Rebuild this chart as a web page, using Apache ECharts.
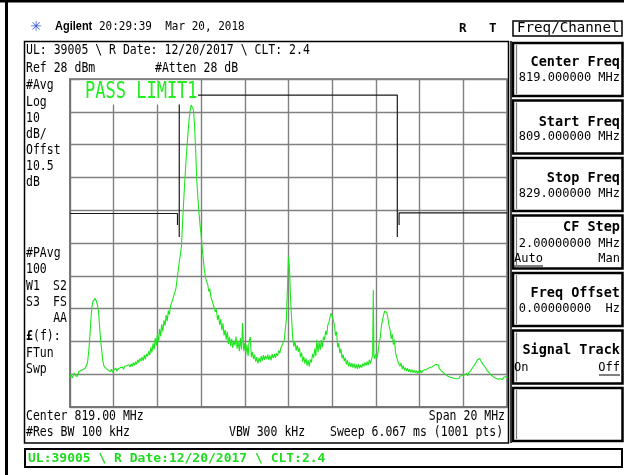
<!DOCTYPE html>
<html>
<head>
<meta charset="utf-8">
<script src="https://cdn.jsdelivr.net/npm/echarts@6/dist/echarts.min.js"></script>
<style>
html,body{margin:0;padding:0;background:#fff;}
#chart{width:624px;height:475px;}
</style>
</head>
<body>
<div id="chart"></div>
<script>
// ---- trace data (frequency MHz, level dBm) ----
const freqMHz = [
809.00,809.05,809.10,809.15,809.20,809.25,809.30,809.35,809.40,809.45,809.50,809.55,809.60,809.65,809.70,809.75,809.80,809.85,809.90,809.95,
810.00,810.05,810.10,810.15,810.20,810.25,810.30,810.35,810.40,810.45,810.50,810.55,810.60,810.65,810.70,810.75,810.80,810.85,810.90,810.95,
811.00,811.05,811.10,811.15,811.20,811.25,811.30,811.35,811.40,811.45,811.50,811.55,811.60,811.65,811.70,811.75,811.80,811.85,811.90,811.95,
812.00,812.05,812.10,812.15,812.20,812.25,812.30,812.35,812.40,812.45,812.50,812.55,812.60,812.65,812.70,812.75,812.80,812.85,812.90,812.95,
813.00,813.05,813.10,813.15,813.20,813.25,813.30,813.35,813.40,813.45,813.50,813.55,813.60,813.65,813.70,813.75,813.80,813.85,813.90,813.95,
814.00,814.05,814.10,814.15,814.20,814.25,814.30,814.35,814.40,814.45,814.50,814.55,814.60,814.65,814.70,814.75,814.80,814.85,814.90,814.95,
815.00,815.05,815.10,815.15,815.20,815.25,815.30,815.35,815.40,815.45,815.50,815.55,815.60,815.65,815.70,815.75,815.80,815.85,815.90,815.95,
816.00,816.05,816.10,816.15,816.20,816.25,816.30,816.35,816.40,816.45,816.50,816.55,816.60,816.65,816.70,816.75,816.80,816.85,816.90,816.95,
817.00,817.05,817.10,817.15,817.20,817.25,817.30,817.35,817.40,817.45,817.50,817.55,817.60,817.65,817.70,817.75,817.80,817.85,817.90,817.95,
818.00,818.05,818.10,818.15,818.20,818.25,818.30,818.35,818.40,818.45,818.50,818.55,818.60,818.65,818.70,818.75,818.80,818.85,818.90,818.95,
819.00,819.05,819.10,819.15,819.20,819.25,819.30,819.35,819.40,819.45,819.50,819.55,819.60,819.65,819.70,819.75,819.80,819.85,819.90,819.95,
820.00,820.05,820.10,820.15,820.20,820.25,820.30,820.35,820.40,820.45,820.50,820.55,820.60,820.65,820.70,820.75,820.80,820.85,820.90,820.95,
821.00,821.05,821.10,821.15,821.20,821.25,821.30,821.35,821.40,821.45,821.50,821.55,821.60,821.65,821.70,821.75,821.80,821.85,821.90,821.95,
822.00,822.05,822.10,822.15,822.20,822.25,822.30,822.35,822.40,822.45,822.50,822.55,822.60,822.65,822.70,822.75,822.80,822.85,822.88,822.91,822.95,
823.00,823.05,823.10,823.15,823.20,823.25,823.30,823.35,823.40,823.45,823.50,823.55,823.60,823.65,823.70,823.75,823.80,823.85,823.90,823.95,
824.00,824.05,824.10,824.15,824.20,824.25,824.30,824.35,824.40,824.45,824.50,824.55,824.60,824.65,824.70,824.75,824.80,824.85,824.90,824.95,
825.00,825.05,825.10,825.15,825.20,825.25,825.30,825.35,825.40,825.45,825.50,825.55,825.60,825.65,825.70,825.75,825.80,825.85,825.90,825.95,
826.00,826.05,826.10,826.15,826.20,826.25,826.30,826.35,826.40,826.45,826.50,826.55,826.60,826.65,826.70,826.75,826.80,826.85,826.90,826.95,
827.00,827.05,827.10,827.15,827.20,827.25,827.30,827.35,827.40,827.45,827.50,827.55,827.60,827.65,827.70,827.75,827.80,827.85,827.90,827.95,
828.00,828.05,828.10,828.15,828.20,828.25,828.30,828.35,828.40,828.45,828.50,828.55,828.60,828.65,828.70,828.75,828.80,828.85,828.90,828.95,
829.00
];
const levelDbm = [
-62.8,-62.0,-63.2,-62.4,-61.6,-62.5,-61.9,-62.6,-61.2,-61.8,-60.9,-61.5,-60.6,-61.0,-60.1,-59.8,-58.5,-55.5,-51.5,-46.0,
-41.5,-39.8,-39.2,-38.9,-39.6,-40.8,-42.5,-47.0,-51.5,-54.6,-57.8,-59.5,-59.0,-60.2,-59.6,-60.8,-60.3,-61.2,-60.5,-61.4,
-60.7,-61.0,-60.2,-61.1,-60.4,-60.9,-60.0,-60.6,-59.8,-60.5,-59.6,-60.2,-59.4,-60.0,-59.1,-59.8,-58.8,-59.6,-58.5,-59.3,
-58.2,-59.0,-57.6,-58.5,-57.2,-58.0,-56.8,-57.9,-56.2,-57.5,-55.8,-56.6,-55.0,-56.2,-53.8,-55.4,-52.6,-54.5,-51.0,-53.2,
-49.8,-52.0,-48.2,-50.5,-46.8,-49.0,-45.6,-47.2,-44.0,-45.8,-42.6,-43.8,-41.2,-41.8,-39.2,-39.8,-37.0,-35.8,-33.0,-30.5,
-27.8,-25.6,-23.0,-16.0,-9.5,-3.5,2.0,7.0,11.5,15.5,18.5,20.1,20.0,18.5,14.0,6.5,-2.5,-8.0,-12.5,-16.5,
-19.5,-23.5,-27.0,-30.2,-32.5,-33.8,-34.5,-36.8,-36.0,-38.5,-38.2,-40.6,-40.0,-43.0,-42.2,-45.4,-44.0,-47.0,-45.2,-48.6,
-46.5,-50.2,-48.5,-51.5,-49.0,-52.8,-50.6,-53.4,-51.2,-54.0,-51.8,-53.2,-50.5,-54.2,-52.0,-55.0,-51.0,-54.5,-46.4,-55.0,
-52.5,-56.0,-53.0,-56.5,-51.8,-50.6,-56.8,-55.2,-57.4,-56.0,-58.2,-56.8,-58.7,-57.0,-58.4,-56.5,-57.9,-56.2,-57.6,-56.4,
-57.4,-56.0,-57.6,-56.3,-57.8,-55.9,-57.1,-55.8,-57.0,-55.6,-56.4,-54.8,-55.6,-54.0,-54.6,-52.5,-51.8,-48.5,-45.5,-36.0,
-26.2,-30.5,-40.0,-46.0,-51.5,-53.6,-52.0,-54.8,-53.2,-55.2,-54.0,-56.8,-55.4,-58.2,-56.6,-58.8,-57.2,-59.4,-57.8,-59.7,
-57.5,-58.4,-55.8,-57.0,-54.2,-56.5,-51.5,-55.4,-52.2,-54.6,-51.6,-53.8,-50.6,-51.5,-48.8,-50.0,-47.0,-46.2,-44.6,-43.4,
-43.8,-45.5,-47.0,-50.2,-49.0,-53.8,-52.5,-55.6,-54.2,-57.2,-56.0,-58.0,-57.0,-59.0,-57.8,-59.6,-58.4,-59.8,-58.6,-60.0,
-58.8,-60.2,-59.0,-60.4,-58.9,-60.2,-59.2,-60.0,-58.8,-59.6,-58.4,-59.4,-58.2,-59.2,-57.6,-58.8,-57.4,-56.5,-36.3,-56.0,-57.4,
-55.8,-57.2,-55.2,-52.5,-50.8,-47.5,-45.6,-44.0,-42.8,-42.4,-43.2,-45.0,-47.2,-48.5,-51.2,-49.8,-53.0,-51.4,-55.5,-56.8,
-58.0,-57.4,-59.6,-58.6,-60.4,-59.4,-60.8,-60.0,-61.0,-60.2,-61.3,-60.5,-61.4,-60.6,-61.5,-60.8,-61.6,-60.9,-61.8,-61.0,
-61.7,-60.8,-61.6,-60.9,-61.4,-60.6,-61.2,-60.4,-60.9,-60.0,-60.6,-59.8,-60.2,-59.4,-59.8,-59.0,-59.5,-59.2,-60.2,-60.0,
-61.0,-60.8,-61.6,-61.4,-62.2,-61.8,-62.6,-62.2,-62.9,-62.4,-63.1,-62.6,-63.3,-62.7,-63.4,-62.8,-63.3,-62.6,-63.2,-62.4,
-63.0,-62.2,-62.8,-61.8,-62.5,-61.5,-62.0,-60.8,-61.2,-59.8,-60.0,-58.8,-58.6,-57.6,-57.8,-57.2,-57.9,-58.0,-59.0,-58.6,
-59.8,-60.0,-61.0,-60.8,-61.7,-61.6,-62.4,-62.0,-62.9,-62.5,-63.3,-62.8,-63.5,-62.9,-63.4,-62.8,-63.6,-62.9,-63.4,-62.7,
-63.2
];
// ---- limit line segments [freq MHz, dBm] ----
const limitLeft  = [[809, -13], [813.92, -13], [813.92, -16.5]];
const limitMask  = [[814.0, -20.2], [814.0, 23.1], [823.98, 23.1], [823.98, -20.2]];
const limitRight = [[824.06, -16.5], [824.06, -12.8], [829, -12.8]];
// ---- screen setup ----
const freqStart = 809, freqStop = 829, freqDiv = 2;
const refLevel = 28, dbPerDiv = 10, numDivs = 10;
const bottomDbm = refLevel - dbPerDiv * numDivs;   // -72 dBm at the bottom graticule line

// axes are measured from the screen's lower-left corner (offset from start freq / bottom level)
const toXY = (f, v) => [f - freqStart, v - bottomDbm];

const MONO = '"DejaVu Sans Mono", monospace';
const txt = [];
function T(text, x, y, size, opts) {
  opts = opts || {};
  txt.push({
    type: 'text', x: x, y: y, z: opts.z || 10,
    scaleY: opts.sy || 1,
    style: {
      text: text, x: 0, y: 0,
      font: (opts.bold ? 'bold ' : '') + size + 'px ' + (opts.family || MONO),
      fill: opts.color || '#000',
      textAlign: opts.align || 'left',
      textVerticalAlign: 'middle'
    }
  });
}
// header
T('\u2733', 36, 27, 14, {color: '#3a5bd9', align: 'center', family: '"DejaVu Sans", sans-serif'});
T('Agilent', 55, 27, 11, {bold: true, sy: 1.1, family: '"Liberation Sans", Arial, sans-serif'});
T('20:29:39  Mar 20, 2018', 99, 27, 11, {sy: 1.1});
T('R', 459, 29, 12.5, {bold: true});
T('T', 489, 29, 12.5, {bold: true});
T('Freq/Channel', 517, 28.5, 14.2);
// display box text
const S = {sy: 1.15};
T('UL: 39005 \\ R Date: 12/20/2017 \\ CLT: 2.4', 26, 51, 11.5, S);
T('Ref 28 dBm', 26, 69, 11.5, S);
T('#Atten 28 dB', 155, 69, 11.5, S);
const sideTop = ['#Avg', 'Log', '10', 'dB/', 'Offst', '10.5', 'dB'];
sideTop.forEach((s, i) => T(s, 26, 86 + i * 16.1, 11.5, S));
T('#PAvg', 26, 254, 11.5, S); T('100', 26, 270, 11.5, S);
T('W1', 26, 287, 11.5, S); T('S2', 53, 287, 11.5, S);
T('S3', 26, 303, 11.5, S); T('FS', 53, 303, 11.5, S);
T('AA', 67, 319, 11.5, {align: 'right', sy: 1.15});
T('\u00a3', 26, 337, 11.5, {bold: true, sy: 1.15}); T('(f):', 33, 337, 11.5, S);
T('FTun', 26, 354, 11.5, S); T('Swp', 26, 370, 11.5, S);
T('Center 819.00 MHz', 26, 417, 11.5, S);
T('Span 20 MHz', 505, 417, 11.5, {align: 'right', sy: 1.15});
T('#Res BW 100 kHz', 26, 433, 11.5, S);
T('VBW 300 kHz', 229, 433, 11.5, S);
T('Sweep 6.067 ms (1001 pts)', 330, 433, 11.5, S);
// PASS LIMIT1
T('PASS LIMIT1', 85, 92, 17, {color: '#22ee22', sy: 1.35, z: 101});
// soft keys
const keyTop = [43, 100.5, 158, 215.5, 273, 330.5, 388];
T('Center Freq', 620, 62, 13.5, {bold: true, align: 'right'});
T('819.000000 MHz', 620, 78, 12, {align: 'right'});
T('Start Freq', 620, 122, 13.5, {bold: true, align: 'right'});
T('809.000000 MHz', 620, 137, 12, {align: 'right'});
T('Stop Freq', 620, 178, 13.5, {bold: true, align: 'right'});
T('829.000000 MHz', 620, 194, 12, {align: 'right'});
T('CF Step', 620, 227, 13.5, {bold: true, align: 'right'});
T('2.00000000 MHz', 620, 244, 12, {align: 'right'});
T('Auto', 514, 259, 12);
T('Man', 620, 259, 12, {align: 'right'});
T('Freq Offset', 620, 293, 13.5, {bold: true, align: 'right'});
T('0.00000000  Hz', 620, 309, 12, {align: 'right'});
T('Signal Track', 620, 350, 13.5, {bold: true, align: 'right'});
T('On', 514, 368, 12);
T('Off', 620, 368, 12, {align: 'right'});
// status bar
T('UL:39005 \\ R Date:12/20/2017 \\ CLT:2.4', 28, 458.5, 13, {bold: true, color: '#1fdc1f'});

const shapes = [
  {type: 'rect', z: 5, shape: {x: 0, y: 0, width: 624, height: 2.5}, style: {fill: '#000'}},
  {type: 'rect', z: 5, shape: {x: 5, y: 0, width: 3, height: 475}, style: {fill: '#000'}},
  {type: 'rect', z: 5, shape: {x: 24.5, y: 41.5, width: 484, height: 401.5}, style: {fill: 'none', stroke: '#000', lineWidth: 1.5}},
  {type: 'line', z: 5, shape: {x1: 511, y1: 41, x2: 511, y2: 443}, style: {stroke: '#000', lineWidth: 1.5}},
  {type: 'rect', z: 5, shape: {x: 513, y: 21, width: 109, height: 15}, style: {fill: 'none', stroke: '#000', lineWidth: 1.5}},
  {type: 'rect', z: 5, shape: {x: 25, y: 449, width: 597, height: 18}, style: {fill: 'none', stroke: '#000', lineWidth: 2}},
  {type: 'rect', z: 100, shape: {x: 80, y: 80.5, width: 118, height: 24}, style: {fill: '#fff'}},
  {type: 'line', z: 5, shape: {x1: 514, y1: 266, x2: 543, y2: 266}, style: {stroke: '#000', lineWidth: 1}},
  {type: 'line', z: 5, shape: {x1: 599, y1: 375, x2: 620, y2: 375}, style: {stroke: '#000', lineWidth: 1}}
];
keyTop.forEach(t => {
  shapes.push({type: 'rect', z: 5, shape: {x: 513, y: t, width: 109.5, height: 53}, style: {fill: 'none', stroke: '#000', lineWidth: 2.5}});
  shapes.push({type: 'line', z: 5, shape: {x1: 516.5, y1: t + 2, x2: 516.5, y2: t + 51}, style: {stroke: '#777', lineWidth: 1.2}});
});

const chart = echarts.init(document.getElementById('chart'), null, {renderer: 'canvas'});
const axisCommon = {
  type: 'value',
  axisLine: {show: true, lineStyle: {color: '#707070', width: 1.5}},
  axisTick: {show: false},
  axisLabel: {show: false},
  splitLine: {show: true, lineStyle: {color: '#808080', width: 1.4}}
};
chart.setOption({
  animation: false,
  backgroundColor: '#fff',
  grid: {left: 70, top: 79, width: 437, height: 328, show: true, borderColor: '#707070', borderWidth: 1.5, backgroundColor: 'transparent'},
  xAxis: Object.assign({}, axisCommon, {min: 0, max: freqStop - freqStart, interval: freqDiv}),
  yAxis: Object.assign({}, axisCommon, {min: 0, max: dbPerDiv * numDivs, interval: dbPerDiv}),
  series: [
    {type: 'line', data: freqMHz.map((f, i) => toXY(f, levelDbm[i])), symbol: 'none', z: 4,
     lineStyle: {color: '#1ee61e', width: 1.1}},
    {type: 'line', data: limitLeft.map(p => toXY(p[0], p[1])), symbol: 'none', z: 3, lineStyle: {color: '#1a1a1a', width: 1.2}},
    {type: 'line', data: limitMask.map(p => toXY(p[0], p[1])), symbol: 'none', z: 3, lineStyle: {color: '#1a1a1a', width: 1.2}},
    {type: 'line', data: limitRight.map(p => toXY(p[0], p[1])), symbol: 'none', z: 3, lineStyle: {color: '#1a1a1a', width: 1.2}}
  ],
  graphic: {elements: shapes.concat(txt)}
});
</script>
</body>
</html>
